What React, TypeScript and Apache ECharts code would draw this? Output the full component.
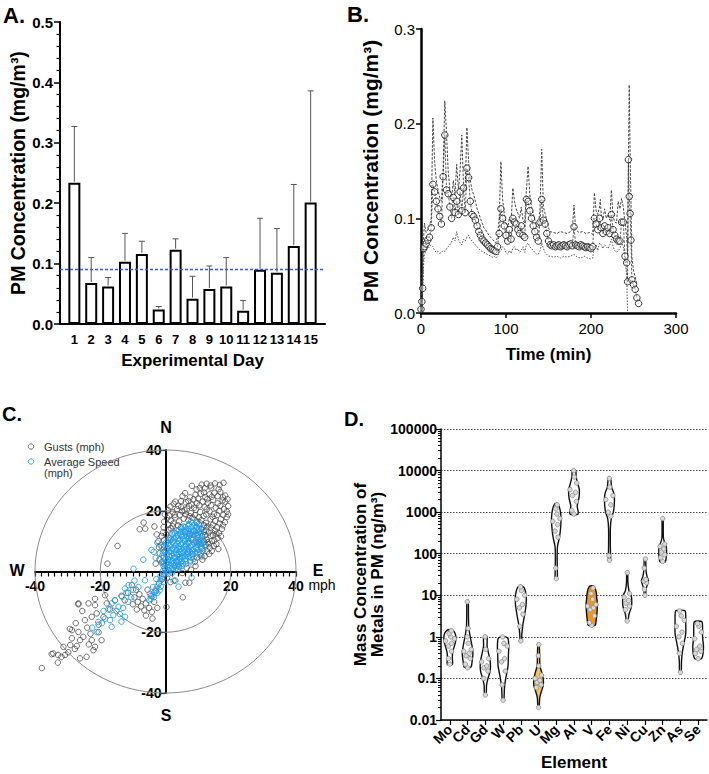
import React, { useEffect, useRef } from 'react';
import * as echarts from 'echarts';

const FONT = '"Liberation Sans", Arial, Helvetica, sans-serif';

// ---------- Panel A: daily PM concentration ----------
const experimentalDays = [1, 2, 3, 4, 5, 6, 7, 8, 9, 10, 11, 12, 13, 14, 15];
const dailyMeanPM = [0.234, 0.068, 0.062, 0.103, 0.116, 0.024, 0.123, 0.042, 0.058, 0.062, 0.022, 0.09, 0.085, 0.129, 0.201];
const dailyUpperPM = [0.327, 0.11, 0.077, 0.15, 0.137, 0.029, 0.141, 0.079, 0.096, 0.11, 0.039, 0.175, 0.158, 0.231, 0.386];
const overallMeanPM = 0.094;

// ---------- Panel B: PM concentration over time ----------
const meanTrace: [number, number][] = [
  [0, 0.004], [1, 0.012], [2, 0.026], [3, 0.068], [4, 0.07], [6, 0.073], [8, 0.077], [10, 0.08], [12, 0.09], [14, 0.136],
  [16, 0.128], [18, 0.118], [20, 0.11], [22, 0.102], [24, 0.094], [26, 0.144], [28, 0.188], [30, 0.13], [32, 0.126], [34, 0.112],
  [36, 0.1], [38, 0.122], [40, 0.106], [42, 0.118], [44, 0.104], [46, 0.128], [48, 0.108], [50, 0.132], [52, 0.106], [54, 0.153],
  [56, 0.143], [58, 0.118], [60, 0.104], [62, 0.102], [64, 0.098], [66, 0.092], [68, 0.086], [70, 0.082], [72, 0.078], [74, 0.076],
  [76, 0.074], [78, 0.072], [80, 0.07], [82, 0.068], [84, 0.067], [86, 0.066], [88, 0.065], [90, 0.07], [92, 0.084], [94, 0.11],
  [96, 0.1], [98, 0.092], [100, 0.082], [102, 0.076], [104, 0.088], [106, 0.078], [108, 0.1], [110, 0.096], [112, 0.094], [114, 0.088],
  [116, 0.084], [118, 0.092], [120, 0.082], [122, 0.08], [124, 0.12], [126, 0.118], [128, 0.108], [130, 0.1], [132, 0.092], [134, 0.086],
  [136, 0.08], [138, 0.076], [140, 0.096], [142, 0.12], [144, 0.098], [146, 0.094], [148, 0.084], [150, 0.076], [152, 0.072], [154, 0.071],
  [156, 0.072], [158, 0.07], [160, 0.071], [162, 0.072], [164, 0.07], [166, 0.071], [168, 0.072], [170, 0.071], [172, 0.07], [174, 0.072],
  [176, 0.073], [178, 0.071], [180, 0.091], [182, 0.072], [184, 0.071], [186, 0.07], [188, 0.072], [190, 0.071], [192, 0.07], [194, 0.069],
  [196, 0.07], [198, 0.069], [200, 0.068], [202, 0.07], [204, 0.1], [206, 0.094], [208, 0.088], [210, 0.1], [212, 0.09], [214, 0.084],
  [216, 0.092], [218, 0.086], [220, 0.09], [222, 0.084], [224, 0.104], [226, 0.088], [228, 0.082], [230, 0.078], [232, 0.076], [234, 0.076],
  [236, 0.096], [238, 0.096], [240, 0.06], [242, 0.053], [243, 0.033], [244, 0.162], [245, 0.123], [246, 0.105], [247, 0.077], [248, 0.035],
  [250, 0.03], [252, 0.025], [254, 0.016], [256, 0.01],
];
const upperTrace: [number, number][] = [
  [0, 0.01], [2, 0.06], [4, 0.095], [6, 0.085], [8, 0.088], [10, 0.092], [12, 0.1], [14, 0.206], [16, 0.16], [18, 0.14],
  [20, 0.13], [22, 0.122], [24, 0.118], [26, 0.15], [28, 0.224], [30, 0.19], [32, 0.15], [34, 0.13], [36, 0.12], [38, 0.14],
  [40, 0.125], [42, 0.157], [44, 0.13], [46, 0.151], [48, 0.188], [50, 0.135], [52, 0.13], [54, 0.196], [56, 0.16], [58, 0.14],
  [60, 0.13], [62, 0.125], [64, 0.118], [66, 0.11], [68, 0.105], [70, 0.1], [72, 0.095], [74, 0.09], [76, 0.088], [78, 0.085],
  [80, 0.082], [82, 0.08], [84, 0.078], [86, 0.076], [88, 0.074], [90, 0.08], [92, 0.1], [94, 0.16], [96, 0.12], [98, 0.105],
  [100, 0.095], [102, 0.09], [104, 0.1], [106, 0.095], [108, 0.132], [110, 0.118], [112, 0.11], [114, 0.105], [116, 0.1], [118, 0.112],
  [120, 0.098], [122, 0.095], [124, 0.13], [126, 0.155], [128, 0.125], [130, 0.112], [132, 0.105], [134, 0.098], [136, 0.092], [138, 0.09],
  [140, 0.11], [142, 0.173], [144, 0.112], [146, 0.105], [148, 0.098], [150, 0.09], [152, 0.086], [156, 0.085], [160, 0.084], [164, 0.086],
  [168, 0.085], [172, 0.084], [176, 0.086], [178, 0.088], [180, 0.114], [182, 0.088], [186, 0.085], [190, 0.086], [194, 0.084], [198, 0.085],
  [202, 0.083], [204, 0.127], [206, 0.108], [208, 0.104], [210, 0.112], [211, 0.12], [212, 0.104], [214, 0.098], [216, 0.11], [218, 0.1],
  [220, 0.104], [222, 0.098], [224, 0.13], [226, 0.102], [228, 0.096], [230, 0.095], [232, 0.118], [234, 0.11], [236, 0.121], [238, 0.112],
  [240, 0.095], [242, 0.08], [243, 0.06], [245, 0.241], [246, 0.17], [247, 0.12], [248, 0.06], [250, 0.045], [252, 0.038], [254, 0.03],
];
const lowerTrace: [number, number][] = [
  [0, 0], [2, 0.02], [3, 0.05], [4, 0.062], [6, 0.066], [8, 0.068], [10, 0.07], [12, 0.072], [14, 0.07], [16, 0.066],
  [18, 0.064], [20, 0.065], [22, 0.063], [24, 0.064], [26, 0.066], [28, 0.065], [30, 0.068], [32, 0.07], [34, 0.072], [36, 0.075],
  [38, 0.08], [40, 0.076], [42, 0.086], [44, 0.078], [46, 0.074], [48, 0.072], [50, 0.078], [52, 0.076], [54, 0.08], [56, 0.082],
  [58, 0.078], [60, 0.076], [62, 0.074], [64, 0.072], [66, 0.07], [68, 0.068], [70, 0.066], [72, 0.065], [74, 0.064], [76, 0.063],
  [78, 0.062], [80, 0.061], [82, 0.06], [84, 0.059], [86, 0.06], [88, 0.058], [90, 0.06], [92, 0.064], [94, 0.066], [96, 0.07],
  [98, 0.068], [100, 0.064], [102, 0.062], [104, 0.066], [106, 0.063], [108, 0.068], [110, 0.07], [112, 0.066], [114, 0.068], [116, 0.064],
  [118, 0.066], [120, 0.07], [122, 0.064], [124, 0.072], [126, 0.074], [128, 0.07], [130, 0.068], [132, 0.066], [134, 0.064], [136, 0.062],
  [138, 0.062], [140, 0.066], [142, 0.074], [144, 0.068], [146, 0.064], [148, 0.062], [150, 0.06], [152, 0.06], [156, 0.059], [160, 0.06],
  [164, 0.058], [168, 0.06], [172, 0.059], [176, 0.06], [180, 0.062], [184, 0.059], [188, 0.058], [192, 0.06], [196, 0.058], [200, 0.057],
  [202, 0.058], [204, 0.07], [206, 0.072], [208, 0.066], [210, 0.074], [212, 0.072], [214, 0.068], [216, 0.072], [218, 0.07], [220, 0.068],
  [222, 0.072], [224, 0.078], [226, 0.07], [228, 0.066], [230, 0.064], [232, 0.066], [234, 0.068], [236, 0.074], [238, 0.07], [240, 0.056],
  [242, 0.04], [243, 0],
];

// ---------- Panel C: wind (E-W, N-S components, mph) ----------
const ringRadii = [20, 40];
const gustPoints: [number, number][] = [
  [8.1, 28.2], [10.5, 27.5], [11.1, 28.6], [12.6, 28.9], [15.2, 29.0], [17.8, 29.2], [14, 27.6], [16.3, 27.1],
  [9.5, 27.0], [13.8, 28.3], [16.6, 28.5], [12.0, 27.4],
  [6.0, 25.8], [9.2, 25.3], [11.8, 26.0], [13.5, 25.4], [15.0, 25.9], [16.8, 26.2], [18.3, 25.0], [12.2, 24.5], [10.0, 24.0], [7.5, 24.4], [4.8, 23.2],
  [5.2, 24.8], [8.6, 23.8], [10.8, 25.6], [14.2, 24.6], [17.6, 24.4], [16.0, 24.8], [12.8, 23.8], [7.0, 23.2], [19.0, 23.8],
  [2.5, 22.3], [3.9, 21.6], [6.2, 22.8], [8.0, 22.0], [9.6, 22.5], [11.4, 23.0], [13.0, 22.6], [14.6, 23.6], [16.0, 22.4], [17.5, 23.4], [18.3, 23.0], [19.2, 21.5], [15.4, 21.0], [12.0, 21.2],
  [1.5, 21.4], [3.0, 23.0], [4.8, 21.2], [7.2, 21.6], [8.8, 21.0], [10.4, 21.8], [12.6, 20.4], [14.0, 21.8], [16.8, 21.6], [17.9, 20.6], [18.8, 19.8], [5.8, 20.2],
  [0.8, 20.2], [2.2, 19.5], [3.6, 20.5], [5.0, 19.8], [6.6, 20.7], [7.8, 19.2], [9.3, 20.3], [10.6, 19.6], [13.5, 19.8], [14.9, 19.0], [16.5, 20.0], [17.7, 18.6], [18.8, 17.9], [11.7, 18.3],
  [-0.2, 18.8], [1.2, 18.4], [2.8, 18.6], [4.4, 18.6], [6.2, 18.8], [7.4, 18.2], [9.0, 18.6], [10.2, 17.8], [12.5, 18.8], [14.4, 18.0], [15.8, 18.6], [17.0, 17.2], [19.2, 18.8],
  [0.5, 17.6], [1.6, 16.8], [3.0, 17.8], [4.2, 16.5], [5.6, 17.4], [7.0, 16.9], [8.3, 17.7], [9.6, 16.2], [11.0, 16.9], [12.4, 16.0], [13.8, 17.2], [15.2, 16.6], [16.6, 15.8], [18.2, 16.2],
  [-0.4, 16.4], [0.8, 15.4], [2.4, 15.8], [3.8, 15.2], [10.2, 15.6], [11.8, 15.2], [12.8, 14.8], [14.6, 15.4], [15.8, 14.6], [17.6, 15.2], [1.6, 14.2],
  [-0.6, 14.6], [0.9, 13.8], [2.2, 14.9], [3.4, 13.5], [4.8, 14.6], [6.1, 13.2], [11.0, 14.0], [12.5, 13.5], [13.9, 14.5], [15.2, 13.4], [16.4, 12.6], [17.3, 14.0],
  [-0.8, 12.8], [0.2, 12.2], [11.8, 13.0], [12.2, 12.0], [13.2, 12.8], [14.5, 12.0], [15.6, 12.4], [17.0, 11.6], [14.2, 10.0], [13.0, 9.6],
  [-1.2, 11.7], [-0.4, 10.3], [1.0, 11.2], [11.2, 11.6], [12.6, 10.5], [13.8, 11.8], [15.0, 10.2], [16.0, 11.0],
  [-1.5, 8.6], [0.5, 7.4], [9.8, 8.9], [11.2, 7.6], [12.3, 8.8], [13.6, 7.8], [14.8, 8.4],
  [10.4, 9.8], [11.8, 9.8], [13.2, 9.0], [15.6, 9.0], [12.8, 6.6], [14.2, 6.8], [11.0, 5.0], [13.4, 5.8], [16.2, 7.4],
  [8.3, 5.8], [9.6, 4.6], [10.8, 6.0], [12.0, 5.0], [7.6, 3.6], [9.0, 3.2], [11.3, 3.9],
  [5.1, -0.5], [6.5, 1.2], [7.8, 0.6], [4.2, 1.5], [9.2, 1.8],
  [7.5, 12.2], [8.8, 13.3], [9.9, 12.0], [8.5, 10.5], [9.5, 9.8], [7.2, 9.5], [6.8, 6.5],
  [6.1, -3.7], [7.3, -3.7], [5.3, -8.5], [3.0, -3.0], [0.5, -2.0], [1.5, -3.5],
  [-1.8, 4.0], [-1.2, 3.0], [-2.0, 8.0],
  [-14.7, 8.4], [-17.8, 2.6], [-7.9, 13.9], [-6.2, 14.1], [-6.7, 16.1], [-3.4, 14.8], [-2.7, 12.2], [-3.0, 2.6], [-2.2, 10.0], [-1.8, 6.0], [0.3, -11.7],
  [-37.9, -31.8], [-34.9, -27.2], [-32.9, -27.5], [-31.9, -28.1], [-29.8, -26.6], [-34.4, -27.0], [-30.8, -27.5], [-31.3, -24.8], [-29.2, -24.2],
  [-27.2, -24.5], [-26.2, -28.6], [-24.2, -28.1], [-22.1, -25.9], [-21.6, -24.8], [-22.6, -22.6], [-19.6, -22.6], [-26.2, -22.6], [-25.2, -21.5],
  [-28.7, -22.0], [-26.7, -19.9], [-28.7, -19.3], [-24.7, -16.0], [-22.6, -14.9], [-21.1, -13.8], [-23.6, -10.5], [-21.6, -11.1], [-26.7, -10.5],
  [-18.0, -10.5], [-18.5, -7.8], [-24.0, -18.5], [-27.5, -17.0], [-29.3, -18.9], [-25.5, -13.0], [-23.0, -20.5], [-20.5, -17.5], [-19.0, -15.0],
  [-17.0, -12.5], [-15.5, -9.5], [-13.5, -8.0], [-20.5, -20.0], [-23.5, -24.0], [-27.8, -25.5], [-33.0, -30.0], [-26.7, -10.8], [-21.6, -9.0],
  [-10.3, -4.5], [-9.0, -6.0], [-8.0, -7.5], [-7.0, -9.0], [-6.0, -10.5], [-5.0, -12.0], [-4.2, -13.3], [-9.5, -8.5], [-8.5, -10.0], [-7.5, -11.5],
  [-6.5, -12.8], [-5.5, -6.0], [-4.5, -8.0], [-3.5, -10.0], [-10.0, -10.8], [-8.8, -12.5], [-6.0, -14.5], [-4.0, -15.5], [-2.5, -12.0], [-3.0, -6.5],
  [-11.5, -7.0], [-12.5, -9.5], [-2.0, -4.0], [-1.0, -2.5],
];
const avgSpeedPoints: [number, number][] = [
  [0, 0.5], [0.5, 1.5], [1, 0.3], [1.5, 2], [2, 1], [2.5, 2.8], [3, 1.8], [3.5, 3.5], [4, 2.6], [4.5, 4.2], [5, 3.3], [5.5, 5], [6, 4],
  [6.5, 5.8], [7, 4.8], [7.5, 6.5], [8, 5.6], [8.5, 7.3], [9, 6.4], [9.5, 8.1], [10, 7.2], [10.5, 9], [11, 8], [10.8, 10.5], [9.8, 11],
  [9.3, 12.5], [8.5, 13.5], [9.5, 14.5], [10.5, 13.2], [7.5, 12.5], [6.5, 11.5], [7.8, 10.8], [8.8, 9.5], [6.8, 9.5], [5.8, 10], [4.8, 9],
  [5.6, 8], [6.6, 7.5], [7.6, 8.3], [4.5, 6.5], [3.5, 5.5], [2.5, 4.5], [1.5, 3.8], [0.5, 3], [-0.5, 2.5], [-0.5, 4.5], [0.3, 5.5], [1.2, 6.5],
  [2, 7.5], [3, 8.5], [4, 10], [5, 11.5], [6, 13], [7, 14], [3.2, 11.5], [2.2, 9.8], [1, 8.5], [0, 7], [-0.8, 6.2], [-1, 8], [0.2, 9.5],
  [1.5, 11], [2.5, 12.8], [4, 13.5], [5.5, 14.8], [7.2, 15.6], [8.3, 16], [3.5, 7], [2.5, 6], [5.5, 6.5], [4.2, 4.8], [6.2, 2.5], [7.5, 3],
  [8.7, 4.2], [10.5, 5.5], [11.5, 6.8], [12, 8.5], [11.5, 10.5], [3.8, 0.8], [5, 1.8], [2, -0.5], [0.8, -0.8], [1.3, 4.8], [-0.3, 1.2],
  [-0.8, 0.2], [0.3, -0.2], [1.2, 1.2], [2.3, 0.4], [3.2, 1.0], [-0.6, 1.8], [0.8, 2.2], [2.8, 2.0], [3.8, 1.8],
  [-0.9, 3.2], [0.2, 2.6], [1.9, 2.8], [3.2, 3.2], [4.2, 3.6], [5.3, 2.6], [6.1, 3.4], [0.7, 4.0], [2.2, 3.6],
  [-1, 5.2], [0, 4.2], [1, 5.0], [2, 5.2], [3, 4.6], [4, 5.6], [5, 4.6], [6, 5.0], [7, 5.8], [7.8, 4.6], [3.2, 6.2], [5.2, 6.0],
  [-0.2, 6.6], [0.8, 7.2], [1.8, 6.8], [2.8, 7.2], [3.8, 7.8], [4.8, 7.4], [5.8, 7.2], [6.2, 8.4], [7.2, 7.0], [8.2, 6.6], [9.8, 6.0], [10.8, 7.8], [9.4, 7.6],
  [-0.3, 8.6], [0.7, 9.2], [1.7, 8.8], [2.7, 9.4], [3.7, 9.0], [4.2, 8.2], [5.2, 9.4], [6.2, 9.0], [7.2, 9.2], [8.2, 8.8], [9.2, 9.6], [10.2, 9.6], [11.4, 9.2], [5.6, 10.6],
  [0.8, 10.4], [1.8, 10.6], [2.8, 10.6], [3.8, 11.0], [4.5, 10.5], [4.8, 12.2], [5.8, 11.8], [6.8, 10.6], [7.2, 11.6], [8.2, 11.2], [8.8, 12.0], [10.0, 12.2], [11.2, 11.8], [10.2, 10.2],
  [2.0, 12.2], [3.0, 12.6], [3.8, 12.2], [4.8, 13.0], [5.8, 12.8], [6.8, 12.6], [7.8, 13.4], [8.2, 12.4], [9.8, 13.4], [10.8, 12.6], [11.3, 14.2], [6.4, 13.8],
  [4.8, 14.2], [6.0, 14.6], [7.0, 15.0], [8.0, 14.6], [8.8, 15.4], [9.6, 16.0], [10.4, 15.2], [10.2, 14.2], [7.8, 16.4],
  [-4.3, 7.1], [-3.6, 6.5], [-6.8, 3.9], [-9.8, 0.9], [-2.5, 9.5], [-3, 4.5], [2.5, -3], [4, -5], [8, -2], [-1.5, -1.5],
  [-0.5, -0.8], [-1, -2], [-1.5, -3], [-2, -4], [-2.5, -5], [-3, -6], [-3.5, -7], [-4, -8], [-4.5, -9], [-5, -9.5], [-1.5, -5], [-2.5, -7],
  [-3.5, -8.5], [-0.5, -3.5], [-1.8, -6.2], [-4.8, -7.3], [-3.8, -5.1], [-6.3, -2.9], [-8.3, -5.1], [-2.8, -2.5],
  [-12.4, -5.6], [-11.3, -4.5], [-13.3, -8.3], [-16.0, -14.4], [-16.5, -18.2], [-20.6, -16.6], [-21.1, -19.9], [-12.4, -14.9], [-14.4, -11.6],
  [-15.0, -13.0], [-14.0, -14.0], [-17.5, -12.5], [-18.5, -15.5], [-19.5, -17.0], [-13.0, -12.0], [-11.5, -10.0], [-10.5, -8.5], [-15.5, -9.5],
  [-17.0, -16.0], [-22.5, -18.5], [-12.0, -7.0], [-9.5, -3.0], [-13.5, -16.5], [-10.0, -6.0], [-16.5, -10.5], [-19.0, -13.0],
];

// ---------- Panel D: metal concentrations (violins) ----------
const elementNames = ['Mo', 'Cd', 'Gd', 'W', 'Pb', 'U', 'Mg', 'Al', 'V', 'Fe', 'Ni', 'Cu', 'Zn', 'As', 'Se'];
// [concentration, half-width in category units], bottom to top
const violinProfiles: [number, number][][] = [
  [[0.21, 0], [0.22, 0.15], [0.3, 0.14], [0.4, 0.15], [0.5, 0.2], [0.7, 0.3], [0.9, 0.34], [1.2, 0.3], [1.45, 0.15], [1.5, 0]],
  [[0.18, 0], [0.19, 0.2], [0.25, 0.25], [0.4, 0.3], [0.6, 0.25], [1.0, 0.15], [1.6, 0.07], [3, 0.05], [7.2, 0.04], [7.5, 0]],
  [[0.04, 0], [0.042, 0.05], [0.07, 0.07], [0.1, 0.15], [0.15, 0.27], [0.25, 0.28], [0.4, 0.18], [0.6, 0.1], [1.0, 0.1], [1.05, 0]],
  [[0.03, 0], [0.032, 0.05], [0.06, 0.08], [0.1, 0.15], [0.2, 0.28], [0.35, 0.3], [0.6, 0.32], [0.9, 0.28], [1.0, 0.15], [1.02, 0]],
  [[0.75, 0], [0.8, 0.04], [1.2, 0.06], [2, 0.12], [3.5, 0.22], [6, 0.3], [10, 0.3], [15, 0.2], [17, 0.06], [17.5, 0]],
  [[0.02, 0], [0.022, 0.04], [0.035, 0.07], [0.05, 0.17], [0.07, 0.27], [0.1, 0.26], [0.14, 0.18], [0.2, 0.08], [0.4, 0.06], [0.65, 0.04], [0.66, 0]],
  [[24, 0], [25, 0.06], [40, 0.06], [80, 0.05], [150, 0.07], [250, 0.18], [400, 0.24], [700, 0.27], [1100, 0.22], [1500, 0.12], [1650, 0]],
  [[870, 0], [880, 0.2], [1000, 0.24], [1400, 0.18], [2200, 0.28], [3500, 0.3], [5000, 0.2], [7000, 0.12], [10000, 0.1], [10500, 0]],
  [[1.85, 0], [1.9, 0.2], [2.5, 0.25], [4, 0.3], [6, 0.32], [9, 0.28], [12, 0.25], [16, 0.15], [17, 0]],
  [[66, 0], [68, 0.06], [90, 0.06], [150, 0.05], [400, 0.05], [700, 0.1], [1000, 0.22], [1800, 0.28], [2800, 0.25], [4000, 0.12], [6500, 0.07], [7000, 0]],
  [[2.4, 0], [2.5, 0.05], [3.5, 0.1], [5, 0.22], [7, 0.26], [10, 0.22], [13, 0.1], [20, 0.04], [37, 0.03], [38, 0]],
  [[10, 0], [10.5, 0.04], [14, 0.06], [18, 0.14], [23, 0.2], [28, 0.12], [40, 0.06], [75, 0.04], [78, 0]],
  [[62, 0], [64, 0.15], [80, 0.2], [110, 0.22], [150, 0.2], [190, 0.1], [250, 0.04], [700, 0.03], [730, 0]],
  [[0.13, 0], [0.14, 0.05], [0.25, 0.06], [0.4, 0.1], [0.7, 0.2], [1.2, 0.3], [2.2, 0.3], [4.2, 0.27], [4.4, 0]],
  [[0.29, 0], [0.3, 0.2], [0.4, 0.28], [0.6, 0.3], [1, 0.25], [1.6, 0.25], [2.3, 0.22], [2.4, 0]],
];
const elementPoints: number[][] = [
  [0.22, 0.3, 0.45, 0.6, 0.7, 0.8, 0.9, 1.0, 1.2, 1.4],
  [0.18, 0.22, 0.3, 0.35, 0.4, 0.45, 0.5, 0.7, 1.0, 1.6, 7.0],
  [0.04, 0.1, 0.15, 0.18, 0.2, 0.25, 0.3, 0.5, 1.0],
  [0.03, 0.07, 0.15, 0.25, 0.3, 0.45, 0.6, 0.7, 1.0],
  [0.8, 1.8, 3.5, 5, 6, 8, 10, 13, 16],
  [0.02, 0.06, 0.07, 0.08, 0.09, 0.1, 0.12, 0.2, 0.35, 0.65],
  [25, 45, 250, 350, 500, 600, 700, 900, 1200, 1500],
  [900, 1100, 1800, 2500, 3000, 3500, 5000, 7000, 10000],
  [1.9, 2.2, 3.2, 4.5, 5, 5.5, 6, 8, 11, 15],
  [70, 90, 800, 1000, 1500, 2000, 2500, 4000, 6500],
  [2.4, 4.5, 5.5, 6.5, 7.5, 9, 11, 35],
  [10, 14, 20, 22, 24, 45, 75],
  [65, 80, 95, 110, 130, 150, 170, 700],
  [0.14, 0.4, 0.7, 1, 1.3, 1.8, 2.5, 3.2, 4.2],
  [0.3, 0.4, 0.45, 0.5, 0.6, 0.9, 1.3, 1.8, 2.1],
];

// ---------- styling constants ----------
const violinFill: Record<string, string> = { U: '#F5C35A', V: '#F4961E' };
const JITTER = [0, -0.55, 0.55, -0.3, 0.3, -0.75, 0.75, 0.15, -0.15, 0.45, -0.45];
const GRID_C = { left: 35, top: 450, width: 261, height: 243 };

function halfWidthAt(profile: [number, number][], v: number): number {
  const lv = Math.log10(v);
  for (let k = 0; k < profile.length - 1; k++) {
    const a = Math.log10(profile[k][0]);
    const b = Math.log10(profile[k + 1][0]);
    if (lv >= a && lv <= b) {
      const t = b === a ? 0 : (lv - a) / (b - a);
      return profile[k][1] + t * (profile[k + 1][1] - profile[k][1]);
    }
  }
  return 0;
}

function fmtLog(v: number): string {
  return String(Number(v.toPrecision(3)));
}

const bold = (size: number) => ({ fontFamily: FONT, fontWeight: 'bold' as const, fontSize: size, color: '#000' });
const regular = (size: number) => ({ fontFamily: FONT, fontWeight: 'normal' as const, fontSize: size, color: '#000' });

const minorLogTicks: number[] = [];
for (let e = -2; e < 5; e++) {
  for (let m = 2; m <= 9; m++) minorLogTicks.push(Number((m * Math.pow(10, e)).toPrecision(3)));
}

export default function App() {
  const ref = useRef<HTMLDivElement>(null);

  useEffect(() => {
    document.body.style.margin = '0';
    if (!ref.current) return;
    const chart = echarts.init(ref.current, undefined, { renderer: 'svg' });

    const option: any = {
      animation: false,
      backgroundColor: '#fff',
      textStyle: { fontFamily: FONT },
      grid: [
        { left: 60, top: 22, width: 265, height: 302 },
        { left: 421, top: 29, width: 255, height: 284 },
        GRID_C,
        { left: 441, top: 429, width: 266, height: 291 },
      ],
      xAxis: [
        {
          gridIndex: 0, type: 'value', min: 0.15, max: 15.85,
          axisLine: { show: true, onZero: false, lineStyle: { color: '#000', width: 2 } },
          axisTick: { show: false },
          axisLabel: { customValues: experimentalDays, margin: 9, showMinLabel: true, showMaxLabel: true, ...bold(13) },
          splitLine: { show: false },
          name: 'Experimental Day', nameLocation: 'middle', nameGap: 28, nameTextStyle: bold(17),
        },
        {
          gridIndex: 1, type: 'value', min: 0, max: 300, interval: 100,
          axisLine: { show: true, onZero: false, lineStyle: { color: '#000', width: 2.5 } },
          axisTick: { show: true, length: 5, lineStyle: { color: '#000', width: 1.5 } },
          axisLabel: { margin: 8, showMinLabel: true, showMaxLabel: true, ...regular(15) },
          splitLine: { show: false },
          name: 'Time (min)', nameLocation: 'middle', nameGap: 33, nameTextStyle: bold(17),
        },
        {
          gridIndex: 2, type: 'value', min: -40, max: 40, interval: 2,
          position: 'bottom', offset: -GRID_C.height / 2,
          axisLine: { show: true, onZero: false, lineStyle: { color: '#000', width: 2 } },
          axisTick: { show: true, length: 5, lineStyle: { color: '#000', width: 1.2 } },
          axisLabel: {
            margin: 7, showMinLabel: true, showMaxLabel: true, ...bold(14),
            formatter: (v: number) => (v !== 0 && v % 20 === 0 ? String(v) : ''),
          },
          splitLine: { show: false },
        },
        {
          gridIndex: 3, type: 'value', min: 0.5, max: 15.5, position: 'bottom',
          axisLine: { show: true, onZero: false, lineStyle: { color: '#000', width: 1.5 } },
          axisTick: { show: true, customValues: experimentalDays, length: 5, lineStyle: { color: '#000', width: 1.2 } },
          axisLabel: { show: false },
          splitLine: { show: false },
        },
        {
          gridIndex: 3, type: 'category', data: elementNames, position: 'bottom', offset: 0,
          axisLine: { show: false },
          axisTick: { show: false },
          axisLabel: { interval: 0, rotate: 45, margin: 7, ...bold(14) },
          splitLine: { show: false },
          name: 'Element', nameLocation: 'middle', nameGap: 34, nameTextStyle: bold(17),
        },
      ],
      yAxis: [
        {
          gridIndex: 0, type: 'value', min: 0, max: 0.5, interval: 0.1,
          axisLine: { show: true, onZero: false, lineStyle: { color: '#000', width: 2 } },
          axisTick: { show: true, length: 6, lineStyle: { color: '#000', width: 1.5 } },
          minorTick: { show: true, splitNumber: 5, length: 3.5, lineStyle: { color: '#000', width: 1.2 } },
          axisLabel: { margin: 7, showMinLabel: true, showMaxLabel: true, formatter: (v: number) => v.toFixed(1), ...bold(15) },
          splitLine: { show: false },
          name: 'PM Concentration (mg/m³)', nameLocation: 'middle', nameGap: 30, nameTextStyle: bold(19.5),
        },
        {
          gridIndex: 1, type: 'value', min: 0, max: 0.3, interval: 0.1,
          axisLine: { show: true, onZero: false, lineStyle: { color: '#000', width: 2.5 } },
          axisTick: { show: true, length: 5, lineStyle: { color: '#000', width: 1.5 } },
          axisLabel: { margin: 6, showMinLabel: true, showMaxLabel: true, formatter: (v: number) => v.toFixed(1), ...regular(15) },
          splitLine: { show: false },
          name: 'PM Concentration (mg/m³)', nameLocation: 'middle', nameGap: 40, nameTextStyle: bold(21),
        },
        {
          gridIndex: 2, type: 'value', min: -40, max: 40, interval: 20,
          position: 'left', offset: -GRID_C.width / 2,
          axisLine: { show: true, onZero: false, lineStyle: { color: '#000', width: 2 } },
          axisTick: { show: true, length: 5, lineStyle: { color: '#000', width: 1.2 } },
          axisLabel: { margin: 4, showMinLabel: true, showMaxLabel: true, ...bold(14), formatter: (v: number) => (v !== 0 ? String(v) : '') },
          splitLine: { show: false },
        },
        {
          gridIndex: 3, type: 'log', logBase: 10, min: 0.01, max: 100000,
          axisLine: { show: true, onZero: false, lineStyle: { color: '#000', width: 1.5 } },
          axisTick: { show: true, length: 5, lineStyle: { color: '#000', width: 1.2 } },
          axisLabel: { margin: 4, showMinLabel: true, showMaxLabel: true, formatter: fmtLog, ...bold(14) },
          splitLine: { show: true, lineStyle: { color: '#444', width: 1, type: [1.5, 1.5] } },
          name: 'Mass Concentration of\nMetals in PM (ng/m³)', nameLocation: 'middle', nameGap: 46,
          nameTextStyle: { ...bold(17), lineHeight: 17 },
        },
        {
          gridIndex: 3, type: 'log', logBase: 10, min: 0.01, max: 100000, position: 'left', offset: 0,
          axisLine: { show: false },
          axisTick: { show: true, customValues: minorLogTicks, length: 3, lineStyle: { color: '#000', width: 1 } },
          axisLabel: { show: false },
          splitLine: { show: false },
        },
      ],
      series: [
        // Panel A
        {
          type: 'bar', xAxisIndex: 0, yAxisIndex: 0, barWidth: 12,
          data: experimentalDays.map((d, i) => [d, dailyMeanPM[i]]),
          itemStyle: { color: '#fff', borderColor: '#000', borderWidth: 2 },
          markLine: {
            silent: true, symbol: 'none', label: { show: false },
            lineStyle: { color: '#2f55ff', type: [3, 2], width: 1.3, opacity: 1 },
            data: [{ yAxis: overallMeanPM, lineStyle: { color: '#2f55ff', type: [3, 2], width: 1.3 } }],
          },
          z: 3,
        },
        {
          type: 'custom', xAxisIndex: 0, yAxisIndex: 0,
          data: experimentalDays.map((d, i) => [d, dailyMeanPM[i], dailyUpperPM[i]]),
          encode: { x: 0, y: [1, 2] },
          renderItem: (params: any, api: any) => {
            const x = api.value(0);
            const p0 = api.coord([x, api.value(1)]);
            const p1 = api.coord([x, api.value(2)]);
            const st = { stroke: '#555', lineWidth: 1 };
            return {
              type: 'group',
              children: [
                { type: 'line', shape: { x1: p0[0], y1: p0[1] - 1, x2: p1[0], y2: p1[1] }, style: st },
                { type: 'line', shape: { x1: p1[0] - 3, y1: p1[1], x2: p1[0] + 3, y2: p1[1] }, style: st },
              ],
            };
          },
          z: 2,
        },
        // Panel B
        {
          type: 'line', xAxisIndex: 1, yAxisIndex: 1, data: lowerTrace, showSymbol: false, symbol: 'none',
          lineStyle: { color: '#555', width: 1, type: [1.5, 1.5] },
        },
        {
          type: 'line', xAxisIndex: 1, yAxisIndex: 1, data: upperTrace, showSymbol: false, symbol: 'none',
          lineStyle: { color: '#444', width: 1, type: [2.5, 1.5] },
        },
        {
          type: 'line', xAxisIndex: 1, yAxisIndex: 1, data: meanTrace, symbol: 'circle', symbolSize: 6.5, showSymbol: true,
          itemStyle: { color: 'rgba(255,255,255,0.4)', borderColor: '#333', borderWidth: 1 },
          lineStyle: { color: '#333', width: 0.8, type: [2.5, 1.5] },
        },
        // Panel C
        {
          type: 'custom', xAxisIndex: 2, yAxisIndex: 2,
          data: ringRadii.map((r) => [0, 0, r]),
          encode: { x: 0, y: 1 },
          renderItem: (params: any, api: any) => {
            const r = api.value(2);
            const c = api.coord([0, 0]);
            const px = api.coord([r, 0]);
            const py = api.coord([0, r]);
            return {
              type: 'ellipse',
              shape: { cx: c[0], cy: c[1], rx: px[0] - c[0], ry: c[1] - py[1] },
              style: { fill: 'none', stroke: '#8a8a8a', lineWidth: 1 },
            };
          },
          z: 1,
        },
        {
          type: 'scatter', name: 'Gusts (mph)', xAxisIndex: 2, yAxisIndex: 2, data: gustPoints, symbol: 'circle', symbolSize: 5.5,
          itemStyle: { color: 'rgba(0,0,0,0)', borderColor: '#4a4a4a', borderWidth: 0.8, opacity: 1 },
          z: 2,
        },
        {
          type: 'scatter', name: 'Average Speed (mph)', xAxisIndex: 2, yAxisIndex: 2, data: avgSpeedPoints, symbol: 'circle', symbolSize: 5.5,
          itemStyle: { color: 'rgba(0,0,0,0)', borderColor: '#1e9cf0', borderWidth: 0.9, opacity: 1 },
          z: 3,
        },
        // Panel D
        {
          type: 'custom', xAxisIndex: 3, yAxisIndex: 3,
          data: elementNames.map((_, i) => [i + 1, violinProfiles[i][violinProfiles[i].length - 1][0]]),
          encode: { x: 0, y: 1 },
          renderItem: (params: any, api: any) => {
            const i = params.dataIndex;
            const prof = violinProfiles[i];
            const cx = i + 1;
            const pts: number[][] = [];
            for (const [v, hw] of prof) pts.push(api.coord([cx - hw, v]));
            for (let k = prof.length - 1; k >= 0; k--) {
              if (prof[k][1] > 0) pts.push(api.coord([cx + prof[k][1], prof[k][0]]));
            }
            return {
              type: 'polygon',
              shape: { points: pts, smooth: 0.25 },
              style: { fill: violinFill[elementNames[i]] || '#fff', stroke: '#111', lineWidth: 1.4 },
            };
          },
          z: 2,
        },
        {
          type: 'scatter', xAxisIndex: 3, yAxisIndex: 3, symbol: 'circle', symbolSize: 4.5,
          data: elementPoints.flatMap((vals, i) =>
            vals.map((v, j) => [i + 1 + JITTER[j % JITTER.length] * halfWidthAt(violinProfiles[i], v), v])
          ),
          itemStyle: { color: '#d9d9d9', borderColor: '#8c8c8c', borderWidth: 0.8, opacity: 1 },
          z: 3,
        },
      ],
      graphic: [
        { type: 'text', left: 3, top: 4, style: { text: 'A.', ...bold(22), fill: '#000' } },
        { type: 'text', left: 347, top: 3, style: { text: 'B.', ...bold(22), fill: '#000' } },
        { type: 'text', left: 2, top: 404, style: { text: 'C.', ...bold(20), fill: '#000' } },
        { type: 'text', left: 344, top: 409, style: { text: 'D.', ...bold(20), fill: '#000' } },
        { type: 'text', x: 166, y: 427, style: { text: 'N', ...bold(16), fill: '#000', align: 'center', verticalAlign: 'middle' } },
        { type: 'text', x: 166, y: 715, style: { text: 'S', ...bold(16), fill: '#000', align: 'center', verticalAlign: 'middle' } },
        { type: 'text', x: 17, y: 570, style: { text: 'W', ...bold(16), fill: '#000', align: 'center', verticalAlign: 'middle' } },
        { type: 'text', x: 318, y: 570, style: { text: 'E', ...bold(16), fill: '#000', align: 'center', verticalAlign: 'middle' } },
        { type: 'text', x: 322, y: 585, style: { text: 'mph', ...regular(14), fill: '#000', align: 'center', verticalAlign: 'middle' } },
        { type: 'circle', shape: { cx: 31, cy: 446.5, r: 2.7 }, style: { fill: 'none', stroke: '#4a4a4a', lineWidth: 0.8 } },
        { type: 'text', x: 44, y: 446.5, style: { text: 'Gusts (mph)', ...regular(11), fill: '#333', verticalAlign: 'middle' } },
        { type: 'circle', shape: { cx: 31, cy: 461.5, r: 2.7 }, style: { fill: 'none', stroke: '#1e9cf0', lineWidth: 0.9 } },
        { type: 'text', x: 44, y: 461.5, style: { text: 'Average Speed', ...regular(11), fill: '#333', verticalAlign: 'middle' } },
        { type: 'text', x: 44, y: 472.5, style: { text: '(mph)', ...regular(11), fill: '#333', verticalAlign: 'middle' } },
      ],
    };

    chart.setOption(option);
    return () => chart.dispose();
  }, []);

  return <div ref={ref} style={{ width: 709, height: 774 }} />;
}
